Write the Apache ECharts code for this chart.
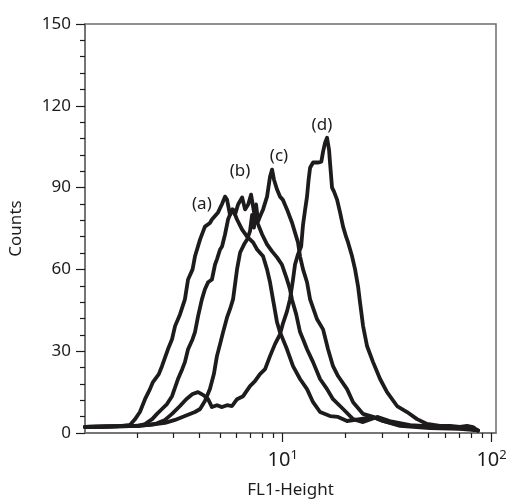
<!DOCTYPE html>
<html>
<head>
<meta charset="utf-8">
<script src="https://cdn.jsdelivr.net/npm/echarts@6/dist/echarts.min.js"></script>
<style>
  html, body { margin: 0; padding: 0; background: #fff; }
  #main { width: 511px; height: 504px; }
</style>
</head>
<body>
<div id="main"></div>
<script>
// FL1-Height (log) / Counts
var curveA = [
  [1.13, 2.2], [1.33, 2.3], [1.66, 2.5], [1.86, 3], [1.96, 5], [2.07, 7.7], [2.19, 12.4],
  [2.31, 16], [2.39, 18.7], [2.55, 21.6], [2.64, 24.5], [2.82, 30.7], [2.95, 34.4],
  [3.05, 39.2], [3.22, 43.5], [3.40, 49], [3.52, 56.3], [3.70, 60], [3.80, 64.8],
  [4.02, 71], [4.24, 75.7], [4.48, 77], [4.58, 78.3], [4.90, 80.9], [5.12, 84],
  [5.29, 86.7], [5.41, 85.6], [5.59, 80], [5.78, 82], [6.04, 78.3], [6.39, 74.6],
  [6.75, 72], [7.21, 69.9], [7.54, 67.3], [8.05, 64.8], [8.41, 60], [8.69, 55.3],
  [8.98, 49], [9.39, 40.6], [9.70, 37], [10.48, 30.7], [11.2, 24.5], [12.1, 19.8],
  [13.07, 16.1], [13.97, 11.3], [15.09, 7.7], [16.84, 6.2], [18.4, 5.9], [20.32, 4.4],
  [23.45, 5.1], [27.07, 5.9], [30.22, 4.4], [36.45, 2.6], [50.7, 1.8], [70.6, 1.5], [86.1, 1]
];
var curveB = [
  [1.13, 2.2], [1.66, 2.5], [2.03, 2.6], [2.19, 3.3], [2.37, 5.1], [2.5, 7], [2.64, 8.8],
  [2.79, 10.6], [2.95, 13.5], [3.15, 19.8], [3.3, 23.4], [3.40, 26], [3.52, 30.7],
  [3.70, 34.4], [3.80, 37], [3.93, 42.8], [4.10, 49], [4.24, 52.7], [4.39, 55.3],
  [4.58, 56.3], [4.74, 61.8], [4.84, 63.7], [5.01, 67.3], [5.12, 68.4], [5.29, 72.8],
  [5.47, 78.3], [5.72, 82], [5.91, 80.1], [6.11, 83.8], [6.39, 86.4], [6.60, 82],
  [6.83, 83.8], [7.05, 87.4], [7.28, 81.2], [7.62, 76.5], [7.97, 72.8], [8.41, 69.2],
  [8.89, 66.6], [9.39, 64.4], [9.9, 61.8], [10.48, 56.3], [10.83, 52.7], [11.07, 49],
  [11.6, 43.5], [12.1, 37], [12.51, 34.4], [13.07, 30.7], [13.97, 26], [15.09, 19.8],
  [16.3, 16.1], [17.41, 12.4], [19.45, 8.8], [21.72, 5.1], [24.25, 4], [28.29, 5.9],
  [32.5, 4.4], [40.7, 2.9], [56.6, 2.2], [74.5, 1.8], [86.1, 1]
];
var curveC = [
  [1.13, 2.2], [1.86, 2.5], [2.31, 3], [2.73, 3.7], [3.05, 4.8], [3.40, 6.2], [3.80, 7.7],
  [4.02, 8.8], [4.24, 11.7], [4.48, 16.1], [4.68, 21.6], [4.84, 28.2], [5.01, 32.6],
  [5.18, 37], [5.41, 42.4], [5.59, 45.4], [5.78, 49], [6.04, 60], [6.25, 66.2],
  [6.53, 69.2], [6.75, 71], [6.97, 74], [7.13, 80], [7.28, 75.3], [7.45, 83.8],
  [7.62, 77.6], [7.78, 79.4], [8.05, 82], [8.41, 86.7], [8.69, 94], [8.89, 96.6],
  [9.08, 92.9], [9.39, 89.3], [9.70, 86.7], [10.0, 85.6], [10.48, 82], [11.07, 77.2],
  [11.45, 73.5], [11.83, 69.9], [12.1, 64.8], [12.51, 60], [13.07, 55.3], [13.52, 49],
  [14.60, 41.7], [15.60, 38], [16.48, 30.7], [17.41, 24.5], [18.40, 20.9], [20.32, 16.1],
  [21.72, 11.3], [24.25, 7], [27.07, 5.9], [30.22, 4.4], [36.45, 2.9], [50.7, 2.2],
  [67, 1.8], [78.9, 1.5]
];
var curveD = [
  [1.13, 2.2], [2.07, 2.6], [2.45, 3.3], [2.73, 4.8], [2.95, 7], [3.22, 9.9], [3.45, 12.4],
  [3.70, 14.3], [3.93, 15], [4.17, 13.9], [4.39, 12.4], [4.58, 9.5], [4.84, 10.2],
  [5.12, 9.5], [5.41, 10.2], [5.72, 9.9], [6.04, 12.4], [6.46, 13.5], [6.97, 17.2],
  [7.36, 19], [7.78, 21.6], [8.23, 23.4], [8.69, 28.2], [9.18, 32.6], [9.70, 36.2],
  [10.0, 39.9], [10.48, 44.6], [10.83, 49], [11.2, 56.3], [11.45, 61.8], [11.83, 65.5],
  [12.25, 68.4], [12.51, 76.5], [12.8, 82], [13.07, 86.7], [13.3, 92.9], [13.52, 97.3],
  [13.97, 99.2], [14.85, 99.2], [15.3, 99.5], [15.60, 103.2], [15.95, 106.5], [16.3, 108.3],
  [16.66, 103.9], [16.84, 99.2], [17.22, 90], [17.6, 88.5], [18.20, 85.6], [18.81, 80.9],
  [19.45, 75.7], [20.1, 72], [20.55, 69.9], [21.48, 64.8], [22.20, 60], [22.94, 53.8],
  [23.45, 47.9], [24.25, 39.2], [25.35, 31.8], [27.07, 26], [29.25, 19.8], [31.58, 15],
  [35.27, 9.9], [39.37, 7.7], [43.97, 5.1], [49.1, 3.3], [56.6, 2.6], [63.3, 2.6],
  [70.6, 2.2], [76.3, 2.6], [81.5, 2.2], [86.1, 0.8]
];
var curveLabels = [
  { name: '(a)', value: [4.10, 83.8] },
  { name: '(b)', value: [6.24, 95.9] },
  { name: '(c)', value: [9.6, 101.4] },
  { name: '(d)', value: [15.4, 113] }
];
var minorTicks = [2, 3, 4, 5, 6, 7, 8, 9, 20, 30, 40, 50, 60, 70, 80, 90];
var majorTicks = [10, 100];

var ink = '#1e1b1c';
var axisGray = '#6d6d6d';
var font = 'Noto Sans';

function curve(data) {
  return {
    type: 'line',
    data: data,
    showSymbol: false,
    symbol: 'none',
    smooth: false,
    lineStyle: { color: ink, width: 3.8, join: 'round', cap: 'round' },
    z: 3
  };
}

var myChart = echarts.init(document.getElementById('main'));

var option = {
  animation: false,
  backgroundColor: '#fff',
  textStyle: { fontFamily: font, color: ink },
  grid: {
    left: 85, right: 15, top: 24, bottom: 70,
    show: true, borderColor: axisGray, borderWidth: 1.5
  },
  xAxis: [
    {
      type: 'log', min: 1.13, max: 105, position: 'bottom',
      name: 'FL1-Height', nameLocation: 'middle', nameGap: 49,
      nameTextStyle: { fontSize: 17, color: ink, fontFamily: font },
      axisLine: { show: true, lineStyle: { color: axisGray, width: 1.5 } },
      axisTick: { show: true, customValues: minorTicks, length: 5, lineStyle: { color: ink, width: 1.2 } },
      axisLabel: { show: false },
      splitLine: { show: false }
    },
    {
      type: 'log', min: 1.13, max: 105, position: 'bottom',
      axisLine: { show: false },
      axisTick: { show: true, customValues: majorTicks, length: 9, lineStyle: { color: ink, width: 1.2 } },
      axisLabel: {
        show: true, customValues: majorTicks, margin: 16,
        formatter: function (v) {
          return '{b|10}{s|' + Math.round(Math.log10(v)) + '}';
        },
        rich: {
          b: { fontSize: 20, color: ink, fontFamily: font },
          s: { fontSize: 13, color: ink, fontFamily: font, verticalAlign: 'top', padding: [0, 0, 10, 0] }
        }
      },
      splitLine: { show: false }
    }
  ],
  yAxis: {
    type: 'value', min: 0, max: 150, interval: 30,
    name: 'Counts', nameLocation: 'middle', nameGap: 60,
    nameTextStyle: { fontSize: 17, color: ink, fontFamily: font },
    axisLine: { show: true, lineStyle: { color: axisGray, width: 1.5 } },
    axisTick: { show: true, length: 9, lineStyle: { color: ink, width: 1.2 } },
    minorTick: { show: true, splitNumber: 5, length: 5, lineStyle: { color: ink, width: 1.2 } },
    axisLabel: { fontSize: 17, color: ink, margin: 14, fontFamily: font },
    splitLine: { show: false }
  },
  series: [
    curve(curveA), curve(curveB), curve(curveC), curve(curveD),
    {
      type: 'scatter',
      data: curveLabels,
      symbolSize: 1,
      itemStyle: { color: 'rgba(0,0,0,0)' },
      label: {
        show: true, position: 'inside', formatter: '{b}',
        fontSize: 17, color: ink, fontFamily: font,
        textBorderWidth: 0, opacity: 1
      },
      emphasis: { disabled: true },
      z: 4
    }
  ]
};

myChart.setOption(option);
</script>
</body>
</html>
